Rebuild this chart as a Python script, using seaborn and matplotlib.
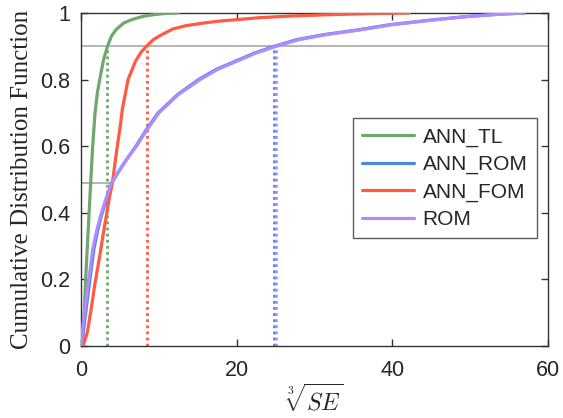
import numpy as np
import pandas as pd
import matplotlib
matplotlib.use("Agg")
import matplotlib.pyplot as plt
import seaborn as sns

# ---- data ----
series_names = ["ANN_TL", "ANN_ROM", "ANN_FOM", "ROM"]

tl_x = [0.15, 0.4, 0.68, 0.95, 1.24, 1.5, 1.8, 2.1, 2.4, 2.9, 3.4, 3.9, 4.5, 5.5, 6.5, 8.0, 9.0, 10.5, 12.5]
tl_y = [0.0, 0.10, 0.24, 0.36, 0.49, 0.60, 0.70, 0.76, 0.80, 0.86, 0.90, 0.93, 0.95, 0.97, 0.98, 0.99, 0.994, 0.998, 1.0]

fom_x = [0.26, 0.8, 1.3, 1.76, 2.4, 3.04, 3.25, 3.6, 4.03, 4.6, 5.1, 5.3, 6.04, 7.0, 7.7, 8.4, 9.3, 10.3, 11.8, 13.5, 15.5, 17.5, 19.5, 23.0, 26.9, 32.0, 37.0, 42.2]
fom_y = [0.0, 0.04, 0.11, 0.183, 0.27, 0.363, 0.39, 0.44, 0.49, 0.59, 0.67, 0.71, 0.80, 0.855, 0.882, 0.90, 0.92, 0.934, 0.952, 0.962, 0.969, 0.975, 0.979, 0.986, 0.991, 0.995, 0.998, 1.0]

rom_x = [0.0, 0.26, 0.9, 1.5, 2.0, 2.5, 3.1, 3.9, 5.0, 6.0, 7.1, 8.5, 10.0, 12.5, 15.3, 17.5, 20.0, 22.5, 25.1, 28.0, 31.5, 35.8, 40.0, 45.3, 50.0, 53.5, 56.6]
rom_y = [0.0, 0.063, 0.183, 0.29, 0.345, 0.39, 0.435, 0.49, 0.53, 0.565, 0.60, 0.65, 0.70, 0.755, 0.80, 0.83, 0.855, 0.88, 0.90, 0.92, 0.935, 0.949, 0.965, 0.979, 0.99, 0.996, 1.0]

annrom_x = [0.05, 0.4, 1.05, 1.65, 2.12, 2.6, 3.2, 3.95, 5.0, 6.0, 7.05, 8.4, 9.9, 12.4, 15.1, 17.3, 19.8, 22.3, 24.85, 27.7, 31.2, 35.5, 39.7, 45.0, 49.8, 53.5, 57.0]
annrom_y = [0.0, 0.063, 0.183, 0.29, 0.345, 0.39, 0.435, 0.49, 0.53, 0.565, 0.60, 0.65, 0.70, 0.755, 0.80, 0.83, 0.855, 0.88, 0.90, 0.92, 0.935, 0.949, 0.965, 0.979, 0.99, 0.996, 1.0]

q90 = {"ANN_TL": 3.4, "ANN_ROM": 24.85, "ANN_FOM": 8.5, "ROM": 25.1}
cross_x = 3.9
cross_y = 0.49

colors = {"ANN_TL": "#6FA86A", "ANN_ROM": "#4E86E0", "ANN_FOM": "#FF5A42", "ROM": "#AE8CFF"}

# ---- build table ----
frames = []
for name, xs, ys in [("ANN_TL", tl_x, tl_y), ("ANN_ROM", annrom_x, annrom_y),
                     ("ANN_FOM", fom_x, fom_y), ("ROM", rom_x, rom_y)]:
    frames.append(pd.DataFrame({"x": xs, "y": ys, "series": name}))
df = pd.concat(frames, ignore_index=True)

sns.set_theme(style="ticks")
plt.rcParams["font.family"] = ["Liberation Sans", "DejaVu Sans"]
plt.rcParams["mathtext.fontset"] = "cm"

fig = plt.figure(figsize=(5.63, 4.18), dpi=100)
ax = fig.add_axes([0.1439, 0.1722, 0.9734 - 0.1439, 0.9689 - 0.1722])

# reference lines
ax.axhline(0.9, color="#A8A8A8", lw=1.2, zorder=1)
ax.plot([0, cross_x], [cross_y, cross_y], color="#A8A8A8", lw=1.2, zorder=1)

sns.lineplot(data=df, x="x", y="y", hue="series", hue_order=series_names,
             palette=colors, sort=False, estimator=None, units="series",
             lw=2.3, ax=ax, legend=False, zorder=3)

for name in series_names:
    ax.plot([q90[name], q90[name]], [0, 0.9], color=colors[name], lw=2.0,
            linestyle=(0, (1, 1.2)), zorder=2)

ax.set_xlim(0, 60)
ax.set_ylim(0, 1)
ax.set_xticks([0, 20, 40, 60])
ax.set_yticks([0, 0.2, 0.4, 0.6, 0.8, 1])
ax.set_yticklabels(["0", "0.2", "0.4", "0.6", "0.8", "1"])
ax.tick_params(direction="in", length=5, width=1, labelsize=15.5, top=True, right=True, color="#333333")
ax.tick_params(axis="x", pad=10)
ax.tick_params(axis="y", pad=8)
for s in ax.spines.values():
    s.set_color("#333333")
    s.set_linewidth(1.0)

ax.set_xlabel(r"$\sqrt[3]{SE}$", fontsize=17)
ax.xaxis.set_label_coords(0.5, -0.112)
ax.set_ylabel("Cumulative Distribution Function", fontsize=18, family=["Liberation Serif", "DejaVu Serif"])
ax.yaxis.set_label_coords(-0.103, 0.5)

handles = [plt.Line2D([], [], color=colors[n], lw=2.3) for n in series_names]
leg = ax.legend(handles, series_names, loc="upper left", bbox_to_anchor=(0.582, 0.685),
                borderaxespad=0, fontsize=15, frameon=True, fancybox=False, edgecolor="#333333",
                handlelength=2.5, handletextpad=0.4, labelspacing=0.4, borderpad=0.45)
leg.get_frame().set_linewidth(1.0)

fig.savefig("out.png", dpi=100)
